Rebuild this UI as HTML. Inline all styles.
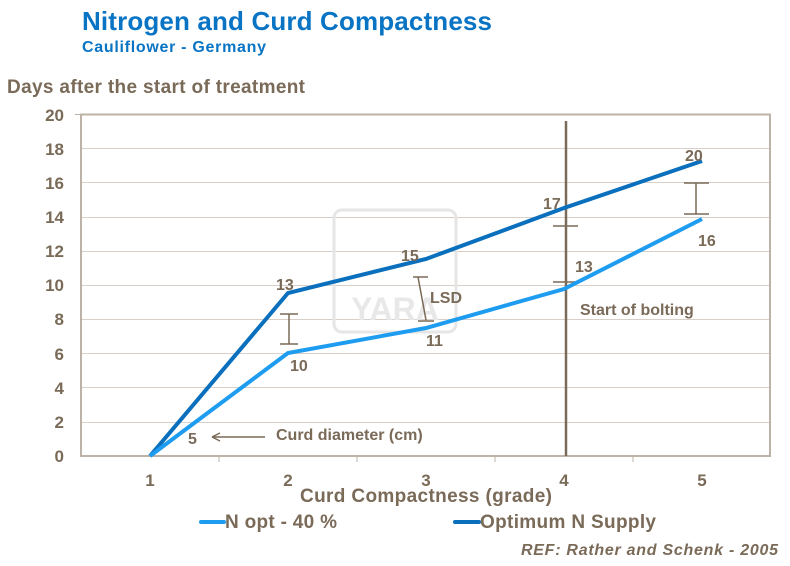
<!DOCTYPE html>
<html><head><style>
body{margin:0;width:790px;height:561px;background:#fff;overflow:hidden;font-family:"Liberation Sans",sans-serif;}
</style></head><body>
<svg width="790" height="561" xmlns="http://www.w3.org/2000/svg" font-family="Liberation Sans, sans-serif" font-weight="bold">
<text x="82" y="30" font-size="26" fill="#0a74c4" textLength="410">Nitrogen and Curd Compactness</text>
<text x="82" y="52" font-size="16" fill="#0a74c4" textLength="184">Cauliflower  - Germany</text>
<text x="7" y="93" font-size="19" fill="#7a6a58" textLength="298">Days after the start of treatment</text>
<g stroke="#d8d0c8" stroke-width="1">
<line x1="81" x2="770" y1="148.5" y2="148.5"/><line x1="81" x2="770" y1="182.5" y2="182.5"/>
<line x1="81" x2="770" y1="217.5" y2="217.5"/><line x1="81" x2="770" y1="251.5" y2="251.5"/>
<line x1="81" x2="770" y1="285.5" y2="285.5"/><line x1="81" x2="770" y1="319.5" y2="319.5"/>
<line x1="81" x2="770" y1="353.5" y2="353.5"/><line x1="81" x2="770" y1="387.5" y2="387.5"/>
<line x1="81" x2="770" y1="422.5" y2="422.5"/>
</g>
<rect x="81" y="114.5" width="689" height="341.5" fill="none" stroke="#bdb2a6" stroke-width="2"/>
<g stroke="#bdb2a6" stroke-width="1"><line x1="75" x2="81" y1="114.5" y2="114.5"/>
<line x1="219" x2="219" y1="456" y2="462"/><line x1="357" x2="357" y1="456" y2="462"/><line x1="495" x2="495" y1="456" y2="462"/><line x1="633" x2="633" y1="456" y2="462"/></g>
<rect x="334" y="210" width="122" height="122" rx="8" fill="none" stroke="#e6e6e6" stroke-width="3"/>
<text x="395" y="320" font-size="32" fill="#e8e8e8" text-anchor="middle">YARA</text>
<g font-size="17" fill="#7a6a58" text-anchor="end">
<text x="64" y="121">20</text><text x="64" y="155">18</text><text x="64" y="189">16</text><text x="64" y="223">14</text><text x="64" y="257">12</text><text x="64" y="291">10</text><text x="64" y="325">8</text><text x="64" y="360">6</text><text x="64" y="394">4</text><text x="64" y="428">2</text><text x="64" y="462">0</text>
</g>
<g font-size="17" fill="#7a6a58" text-anchor="middle">
<text x="150" y="486">1</text><text x="288" y="486">2</text><text x="426" y="486">3</text><text x="564" y="486">4</text><text x="702" y="486">5</text>
</g>
<text x="300" y="502" font-size="19" fill="#7a6a58" textLength="252">Curd Compactness (grade)</text>
<line x1="566" x2="566" y1="121" y2="456" stroke="#7a6a58" stroke-width="2.5"/>
<g stroke="#7a6a58" stroke-width="1.5" fill="none">
<path d="M280 314H298M289 314V344M280 344H298"/>
<path d="M413 277H428M418 277L426 320M418 321H434"/>
<path d="M553 226H578M553 282H578"/>
<path d="M684 183H709M696 183V214M684 214H709"/>
<path d="M212 437H265M212 437l8-4M212 437l8 4"/>
</g>
<polyline points="150,456 288,293 426,259 564,208 702,161" fill="none" stroke="#0a6fbd" stroke-width="4"/>
<polyline points="150,456 288,353 426,328 564,289 702,219" fill="none" stroke="#1e9cf0" stroke-width="4"/>
<g font-size="16" fill="#7a6a58">
<text x="276" y="290">13</text><text x="290" y="371">10</text><text x="401" y="261">15</text><text x="426" y="346">11</text>
<text x="430" y="303">LSD</text><text x="543" y="209">17</text><text x="575" y="272">13</text>
<text x="685" y="161">20</text><text x="698" y="246">16</text>
<text x="188" y="444">5</text><text x="276" y="440">Curd diameter (cm)</text>
<text x="580" y="315">Start of bolting</text>
</g>
<line x1="201" x2="224" y1="522" y2="522" stroke="#1e9cf0" stroke-width="4" stroke-linecap="round"/>
<text x="225" y="528" font-size="19" fill="#7a6a58" textLength="112">N opt - 40 %</text>
<line x1="455" x2="479" y1="522" y2="522" stroke="#0a6fbd" stroke-width="4" stroke-linecap="round"/>
<text x="480" y="528" font-size="19" fill="#7a6a58" textLength="176">Optimum N Supply</text>
<text x="521" y="555" font-size="16" font-style="italic" fill="#7a6a58" textLength="257">REF: Rather and Schenk - 2005</text>
</svg>
</body></html>
